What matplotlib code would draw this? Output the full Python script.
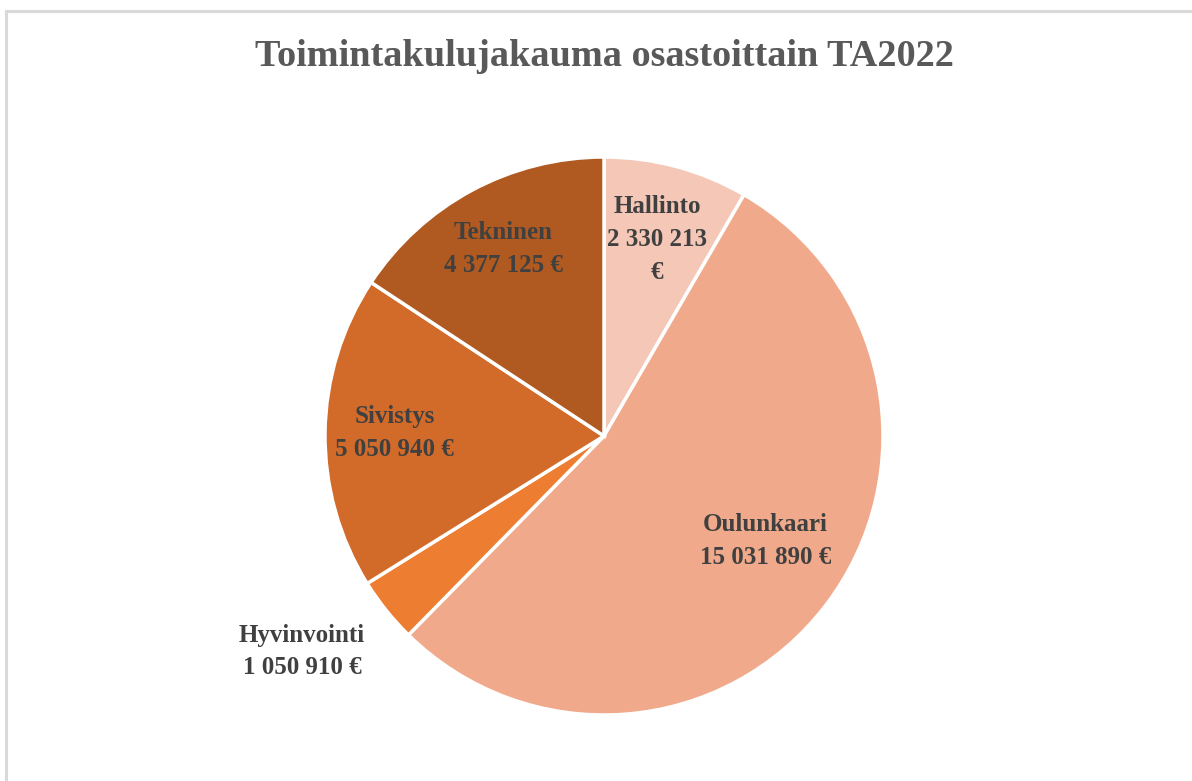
import numpy as np
import matplotlib.pyplot as plt
from matplotlib.lines import Line2D

# Department operating costs, budget 2022
departments = ["Hallinto", "Oulunkaari", "Hyvinvointi", "Sivistys", "Tekninen"]
costs = [2330213, 15031890, 1050910, 5050940, 4377125]
colors = ["#F4C7B6", "#F0A98A", "#ED7D31", "#D26B29", "#B05A21"]

# label placement: distance from centre (fraction of radius), angle override (deg)
label_r = [0.73, 0.69, 1.33, 0.75, 0.76]
label_ang = {"Oulunkaari": -33, "Hyvinvointi": 215.5}


def fmt(v):
    return f"{v:,}".replace(",", " ") + " €"


W, H = 1192, 781
fig = plt.figure(figsize=(W / 100, H / 100), dpi=100)

# light chart frame (top and left edges visible)
fig.add_artist(Line2D([6 / W, 6 / W], [0, 1 - 11 / H], color="#D9D9D9", lw=2.2, transform=fig.transFigure))
fig.add_artist(Line2D([6 / W, 1], [1 - 11 / H, 1 - 11 / H], color="#D9D9D9", lw=2.2, transform=fig.transFigure))

cx, cy, r = 604, 436, 279
ax = fig.add_axes([(cx - r) / W, (H - cy - r) / H, 2 * r / W, 2 * r / H])
wedges, _ = ax.pie(costs, colors=colors, startangle=90, counterclock=False, radius=1,
                   wedgeprops=dict(edgecolor="white", linewidth=2.5))
ax.set_xlim(-1, 1)
ax.set_ylim(-1, 1)
ax.set_aspect("equal")
ax.axis("off")

font = dict(family="Liberation Serif", fontweight="bold", color="#404040", fontsize=18)
for w, name, val, rr in zip(wedges, departments, costs, label_r):
    ang = np.deg2rad(label_ang.get(name, (w.theta1 + w.theta2) / 2))
    txt = f"{name}\n{fmt(val)}"
    if name == "Hallinto":
        txt = f"{name}\n{fmt(val)[:-2]}\n€"
    ax.text(rr * np.cos(ang), rr * np.sin(ang), txt, ha="center", va="center",
            linespacing=1.55, **font)

fig.text(cx / W, 1 - 57 / H, "Toimintakulujakauma osastoittain TA2022", ha="center", va="center",
         family="Liberation Serif", fontweight="bold", color="#595959", fontsize=27.5)

fig.savefig("out.png", dpi=100, facecolor="white")
